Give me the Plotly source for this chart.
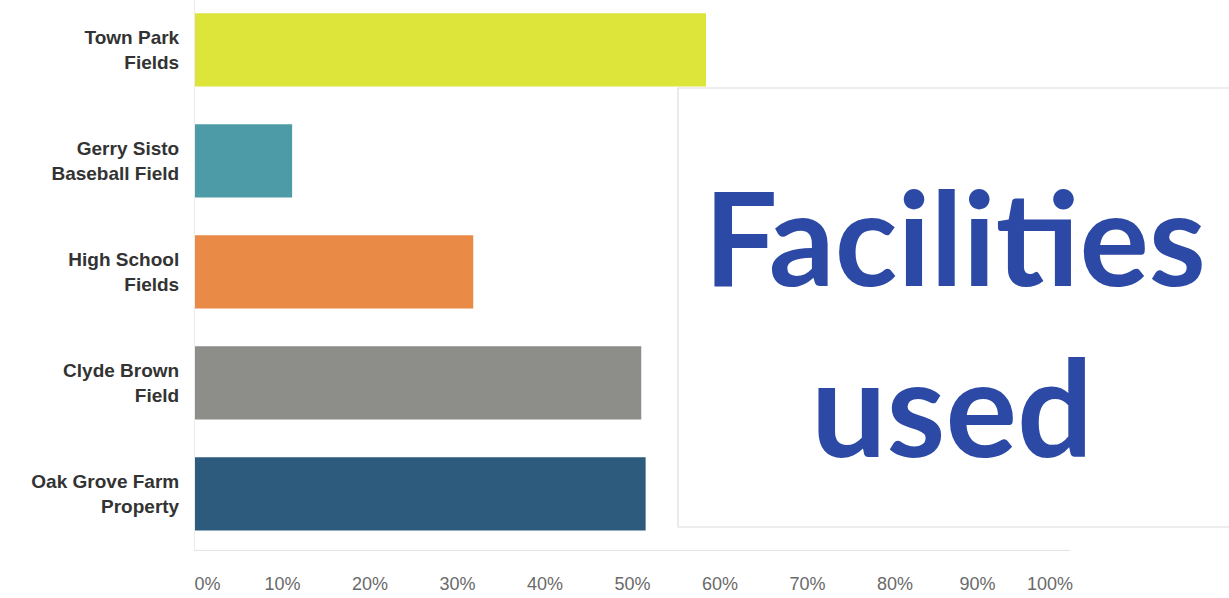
import plotly.graph_objects as go

categories = ["Town Park<br>Fields", "Gerry Sisto<br>Baseball Field", "High School<br>Fields",
              "Clyde Brown<br>Field", "Oak Grove Farm<br>Property"]
values = [58.4, 11.1, 31.8, 51.0, 51.5]
colors = ["#dde43a", "#4d9ba6", "#ea8a47", "#8d8e89", "#2d5b7e"]
tick_vals = [0, 10, 20, 30, 40, 50, 60, 70, 80, 90, 100]
tick_text = ["0%", "10%", "20%", "30%", "40%", "50%", "60%", "70%", "80%", "90%", "100%"]

# small whitespace padding reproduces the uneven label placement at the axis ends
nb = "\u00a0"
shown_ticks = list(tick_text)
shown_ticks[0] = nb * 5 + tick_text[0]
shown_ticks[9] = tick_text[9] + nb * 2
shown_ticks[10] = tick_text[10] + nb * 8

fig = go.Figure()
fig.add_trace(go.Bar(
    y=categories, x=values, orientation="h",
    marker=dict(color=colors, line=dict(width=0)),
    width=0.66, hoverinfo="skip",
))

fig.update_layout(
    width=1229, height=598,
    margin=dict(l=195, r=159, t=0, b=48),
    paper_bgcolor="white", plot_bgcolor="white",
    showlegend=False,
    xaxis=dict(range=[0, 100], tickvals=tick_vals, ticktext=shown_ticks,
               showgrid=False, zeroline=False, showline=True, linecolor="#e4e4e4",
               linewidth=1, ticks="outside", ticklen=17, tickcolor="rgba(0,0,0,0)",
               tickfont=dict(family="Liberation Sans, Arial", size=18, color="#6a6a6a")),
    yaxis=dict(categoryorder="array", categoryarray=categories,
               range=[4.505, -0.45], showgrid=False, zeroline=False,
               showline=True, linecolor="#ececec", linewidth=1,
               ticks="outside", ticklen=11, tickcolor="rgba(0,0,0,0)",
               tickvals=categories, ticktext=["<b>" + c + "</b>" for c in categories],
               tickfont=dict(family="Liberation Sans, Arial", size=19, color="#333333")),
)

# pasted white label box
fig.add_shape(type="rect", xref="paper", yref="paper",
              x0=(678 - 195) / 875, x1=(1235 - 195) / 875,
              y0=(550 - 527) / 550, y1=(550 - 88) / 550,
              fillcolor="white", line=dict(color="#dcdcdc", width=1.2), layer="above")

fig.add_annotation(xref="paper", yref="paper", x=(955 - 195) / 875, y=(550 - 236) / 550,
                   text="<b>Facilities</b>", showarrow=False, xanchor="center", yanchor="middle",
                   font=dict(family="Lato", size=130, color="#2b49a5"))
fig.add_annotation(xref="paper", yref="paper", x=(952 - 195) / 875, y=(550 - 405) / 550,
                   text="<b>used</b>", showarrow=False, xanchor="center", yanchor="middle",
                   font=dict(family="Lato", size=134, color="#2b49a5"))

fig.write_html("out.html", config={"displayModeBar": False},
               post_script="document.body.style.margin='0px';")
